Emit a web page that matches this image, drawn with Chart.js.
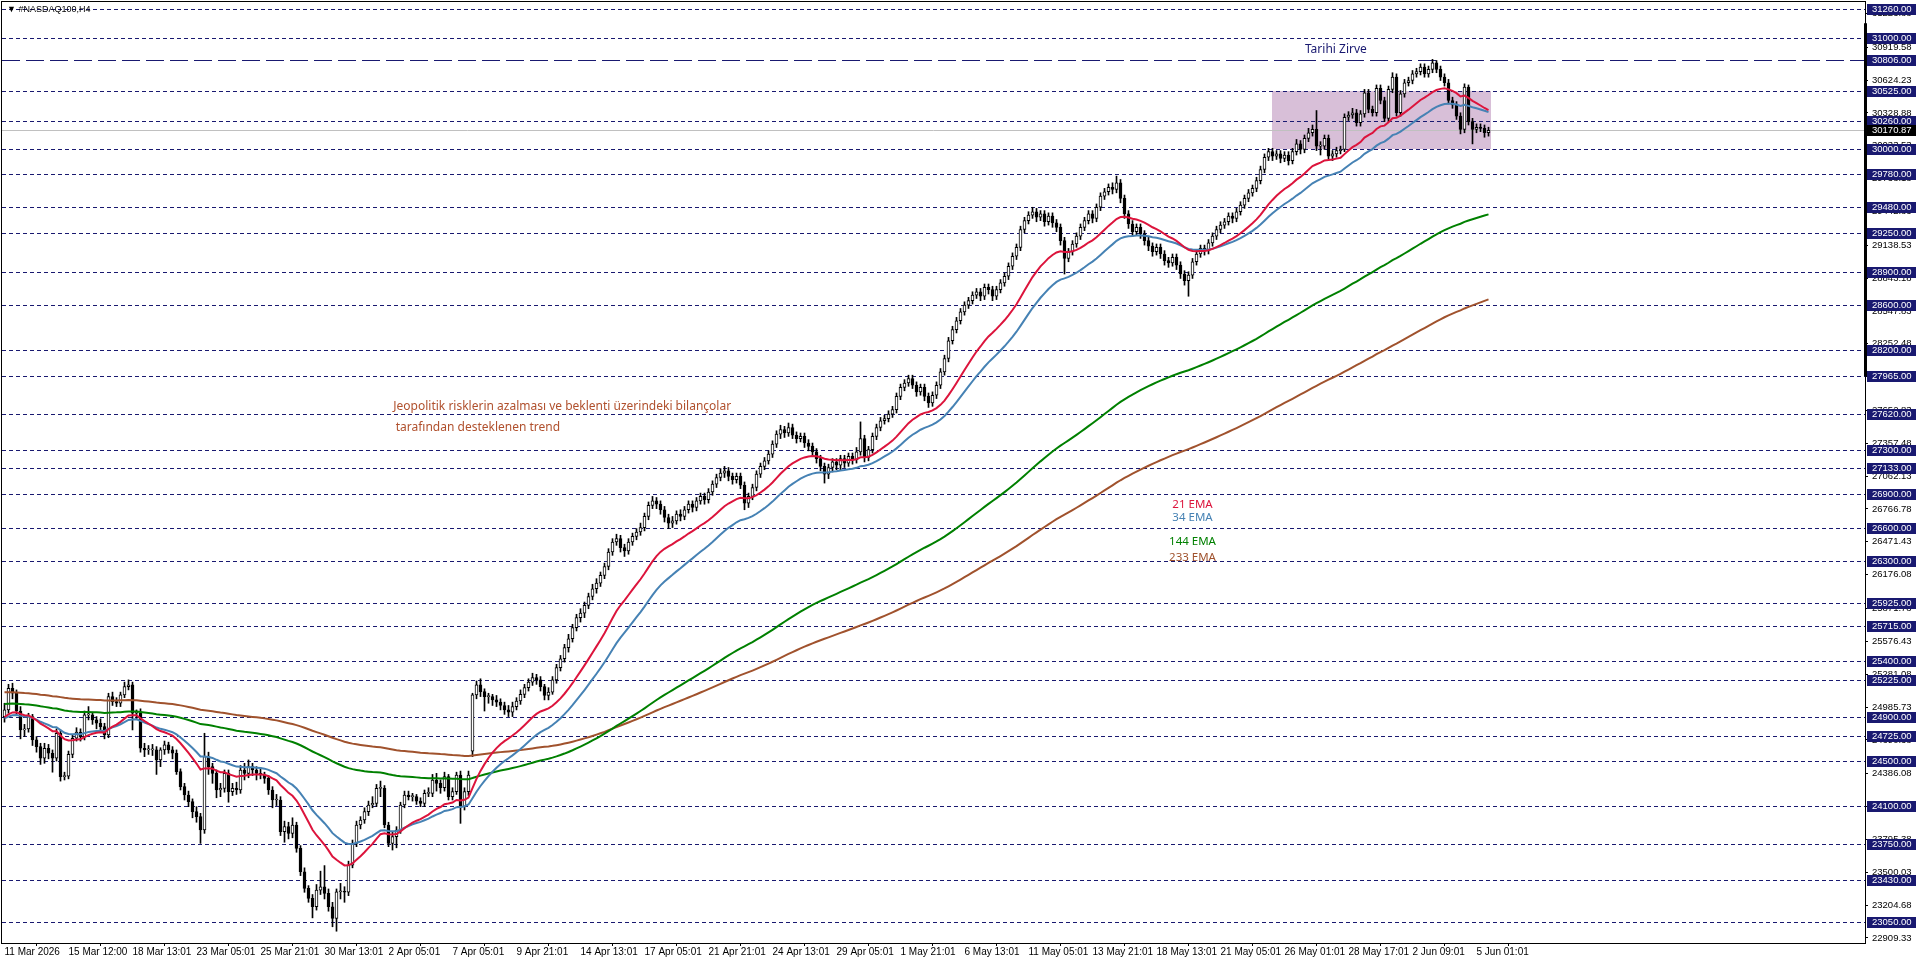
<!DOCTYPE html>
<html>
<head>
<meta charset="utf-8">
<title>#NASDAQ100,H4</title>
<script src="https://cdn.jsdelivr.net/npm/chart.js@4.4.1/dist/chart.umd.min.js"></script>
<style>
    html, body { margin: 0; padding: 0; background: #fff; overflow: hidden; }
    #wrap { width: 1916px; height: 963px; position: relative; }
</style>
</head>
<body>
<div id="wrap"><canvas id="priceChart"></canvas></div>
<script>
// H4 bars, index 0 = 11 Mar 2026
const opens = [
    24900, 24960, 25155, 25110, 24950, 24780, 24790, 24900, 24690, 24630,
    24525, 24615, 24570, 24525, 24750, 24360, 24365, 24560, 24705, 24760,
    24720, 24915, 24915, 24870, 24840, 24810, 24735, 25080, 25035, 25020,
    25095, 25170, 25185, 24930, 24930, 24615, 24600, 24600, 24600, 24510,
    24600, 24645, 24600, 24570, 24405, 24270, 24195, 24135, 24045, 24000,
    23880, 24540, 24450, 24390, 24240, 24255, 24390, 24225, 24255, 24240,
    24420, 24390, 24450, 24420, 24390, 24375, 24345, 24240, 24150, 24150,
    23865, 23910, 23850, 23925, 23715, 23505, 23355, 23265, 23190, 23340,
    23370, 23310, 23190, 23085, 23325, 23325, 23320, 23565, 23760, 23925,
    23970, 24045, 24105, 24120, 24255, 24255, 23925, 23760, 23820, 23880,
    24105, 24195, 24180, 24180, 24140, 24120, 24210, 24210, 24330, 24300,
    24260, 24360, 24180, 24225, 24375, 24090, 24225, 24590, 25095, 25185,
    25125, 25080, 25080, 25050, 25030, 25000, 24960, 24940, 24990, 25040,
    25100, 25160, 25210, 25250, 25230, 25170, 25090, 25120, 25230, 25340,
    25420, 25520, 25600, 25700, 25790, 25830, 25900, 25980, 26050, 26100,
    26170, 26250, 26380, 26470, 26500, 26420, 26390, 26470, 26520, 26560,
    26600, 26700, 26800, 26840, 26810, 26760, 26690, 26640, 26660, 26720,
    26700, 26760, 26810, 26780, 26840, 26880, 26850, 26920, 26990, 27050,
    27090, 27110, 27060, 27030, 27060, 26980, 26820, 26880, 26960, 27080,
    27150, 27200, 27260, 27350, 27440, 27480, 27450, 27500, 27430, 27400,
    27420, 27360, 27330, 27280, 27220, 27150, 27080, 27140, 27190, 27160,
    27220, 27180, 27240, 27210, 27280, 27400, 27230, 27300, 27420, 27500,
    27560, 27580, 27620, 27660, 27780, 27860, 27900, 27940, 27880, 27820,
    27860, 27780, 27720, 27790, 27880, 28000, 28120, 28280, 28380, 28460,
    28540, 28600, 28640, 28690, 28720, 28680, 28760, 28740, 28680, 28740,
    28800, 28860, 28950, 29040, 29120, 29280, 29360, 29410, 29440, 29390,
    29420, 29350, 29400, 29340, 29300, 29180, 29020, 29080, 29150, 29220,
    29300, 29360, 29420, 29380, 29480, 29580, 29620, 29660, 29640, 29700,
    29560, 29420, 29330, 29260, 29300, 29240, 29180, 29130, 29080, 29120,
    29060, 29000, 28980, 29030, 28960, 28880, 28820, 28870, 28990, 29060,
    29110, 29090, 29160, 29220, 29280, 29320, 29350, 29400, 29380, 29440,
    29500, 29560, 29610, 29650, 29720, 29820, 29930, 29980, 29940, 29960,
    29920, 29950, 29900, 29980, 30050, 30000, 30100, 30150, 30180, 30030,
    30030, 30100, 29940, 29960, 29990, 30000, 30290, 30310, 30330, 30240,
    30320, 30510, 30360, 30330, 30550, 30440, 30280, 30540, 30650, 30330,
    30500, 30600, 30620, 30680, 30700, 30740, 30680, 30720, 30780, 30720,
    30650, 30600, 30440, 30400, 30300, 30180, 30560, 30250, 30180, 30200,
    30190, 30150
];
const highs = [
    25020, 25190, 25200, 25140, 24990, 24830, 24930, 24920, 24720, 24660,
    24660, 24650, 24600, 24790, 24780, 24400, 24590, 24740, 24800, 24790,
    24950, 24990, 24940, 24900, 24880, 24840, 25110, 25120, 25070, 25120,
    25210, 25230, 25210, 24960, 24970, 24660, 24640, 24650, 24630, 24620,
    24680, 24670, 24630, 24600, 24430, 24300, 24230, 24160, 24090, 24030,
    24750, 24580, 24480, 24420, 24300, 24420, 24420, 24300, 24310, 24460,
    24480, 24510, 24480, 24450, 24440, 24400, 24370, 24270, 24200, 24180,
    23960, 23950, 23990, 23950, 23740, 23540, 23380, 23300, 23390, 23510,
    23560, 23350, 23230, 23350, 23400, 23370, 23600, 23790, 23960, 24000,
    24080, 24140, 24180, 24290, 24320, 24280, 23950, 23860, 23910, 24130,
    24230, 24230, 24210, 24200, 24170, 24240, 24260, 24380, 24390, 24330,
    24400, 24380, 24260, 24400, 24410, 24260, 24410, 25110, 25220, 25240,
    25150, 25110, 25100, 25090, 25060, 25030, 25000, 25030, 25070, 25140,
    25190, 25240, 25290, 25280, 25260, 25190, 25160, 25260, 25370, 25450,
    25550, 25640, 25730, 25820, 25870, 25930, 26010, 26090, 26140, 26200,
    26280, 26410, 26500, 26540, 26530, 26450, 26500, 26550, 26590, 26640,
    26730, 26830, 26880, 26870, 26840, 26790, 26720, 26700, 26750, 26760,
    26790, 26840, 26840, 26870, 26910, 26910, 26950, 27020, 27080, 27130,
    27150, 27140, 27090, 27090, 27090, 27010, 26910, 26990, 27110, 27180,
    27230, 27290, 27380, 27470, 27520, 27510, 27540, 27530, 27460, 27450,
    27450, 27390, 27360, 27310, 27250, 27180, 27170, 27220, 27220, 27250,
    27250, 27270, 27270, 27320, 27550, 27430, 27330, 27450, 27530, 27590,
    27610, 27650, 27690, 27810, 27890, 27930, 27970, 27970, 27910, 27890,
    27890, 27810, 27820, 27910, 28030, 28150, 28310, 28410, 28490, 28570,
    28630, 28670, 28720, 28750, 28750, 28790, 28790, 28770, 28770, 28830,
    28890, 28980, 29070, 29150, 29310, 29390, 29440, 29480, 29470, 29450,
    29450, 29430, 29430, 29370, 29330, 29210, 29110, 29180, 29250, 29330,
    29390, 29450, 29450, 29510, 29610, 29650, 29690, 29700, 29760, 29730,
    29590, 29450, 29360, 29330, 29330, 29270, 29210, 29160, 29150, 29150,
    29090, 29030, 29060, 29060, 28990, 28910, 28900, 29020, 29090, 29140,
    29140, 29190, 29250, 29310, 29350, 29380, 29430, 29430, 29470, 29530,
    29590, 29640, 29680, 29750, 29850, 29960, 30010, 30010, 29990, 29990,
    29980, 29980, 30010, 30090, 30080, 30130, 30190, 30220, 30350, 30070,
    30130, 30130, 29990, 30020, 30030, 30320, 30340, 30370, 30360, 30350,
    30540, 30540, 30390, 30580, 30580, 30470, 30570, 30690, 30680, 30530,
    30630, 30650, 30710, 30730, 30770, 30770, 30750, 30810, 30800, 30750,
    30680, 30630, 30470, 30430, 30330, 30590, 30580, 30280, 30230, 30230,
    30220, 30200
];
const lows = [
    24850, 24930, 25060, 24910, 24700, 24720, 24760, 24640, 24580, 24470,
    24480, 24520, 24400, 24500, 24320, 24330, 24340, 24530, 24680, 24680,
    24690, 24870, 24830, 24790, 24770, 24700, 24710, 25000, 24990, 24990,
    25070, 25140, 24780, 24880, 24580, 24540, 24560, 24550, 24380, 24450,
    24560, 24570, 24520, 24380, 24240, 24150, 24090, 23990, 23950, 23760,
    23850, 24380, 24300, 24170, 24180, 24220, 24130, 24190, 24200, 24210,
    24330, 24350, 24370, 24330, 24340, 24300, 24200, 24080, 24100, 23830,
    23770, 23800, 23810, 23680, 23470, 23320, 23230, 23090, 23160, 23300,
    23260, 23150, 23010, 22970, 23260, 23230, 23290, 23540, 23730, 23890,
    23940, 24010, 24080, 24090, 24180, 23900, 23730, 23700, 23720, 23850,
    24080, 24150, 24140, 24110, 24090, 24090, 24180, 24180, 24230, 24210,
    24230, 24150, 24150, 24200, 23940, 24060, 24190, 24540, 25060, 25080,
    24950, 25020, 25000, 24990, 24960, 24920, 24900, 24900, 24960, 25010,
    25070, 25130, 25180, 25190, 25130, 25050, 25050, 25100, 25200, 25310,
    25390, 25480, 25570, 25670, 25750, 25790, 25870, 25950, 26010, 26070,
    26140, 26220, 26350, 26440, 26380, 26340, 26360, 26440, 26490, 26530,
    26570, 26670, 26770, 26770, 26720, 26650, 26590, 26600, 26630, 26660,
    26670, 26730, 26740, 26750, 26810, 26810, 26820, 26890, 26960, 27020,
    27050, 27020, 26990, 27000, 26950, 26760, 26780, 26850, 26930, 27050,
    27120, 27170, 27230, 27320, 27400, 27410, 27420, 27400, 27360, 27370,
    27320, 27290, 27240, 27180, 27110, 27000, 27040, 27100, 27120, 27120,
    27140, 27150, 27170, 27180, 27250, 27190, 27200, 27270, 27390, 27470,
    27530, 27550, 27590, 27630, 27750, 27830, 27870, 27850, 27780, 27790,
    27740, 27680, 27690, 27760, 27850, 27970, 28090, 28250, 28350, 28430,
    28510, 28570, 28610, 28660, 28640, 28650, 28700, 28640, 28650, 28710,
    28770, 28830, 28920, 29010, 29090, 29250, 29330, 29380, 29350, 29360,
    29310, 29320, 29300, 29260, 29140, 28880, 28990, 29050, 29120, 29190,
    29270, 29330, 29340, 29350, 29450, 29550, 29590, 29600, 29610, 29520,
    29380, 29290, 29220, 29230, 29200, 29140, 29090, 29040, 29050, 29020,
    28960, 28940, 28950, 28920, 28840, 28780, 28680, 28840, 28960, 29030,
    29050, 29060, 29130, 29190, 29250, 29290, 29320, 29340, 29350, 29410,
    29470, 29530, 29580, 29620, 29690, 29790, 29900, 29900, 29910, 29880,
    29890, 29860, 29870, 29950, 29960, 29970, 30070, 30120, 29990, 29950,
    30000, 29910, 29900, 29930, 29960, 29980, 30260, 30280, 30210, 30210,
    30290, 30330, 30300, 30300, 30410, 30250, 30250, 30510, 30300, 30300,
    30470, 30570, 30590, 30650, 30670, 30650, 30650, 30690, 30690, 30620,
    30570, 30410, 30370, 30270, 30140, 30150, 30220, 30050, 30150, 30160,
    30110, 30120
];
const closes = [
    24960, 25155, 25110, 24950, 24780, 24790, 24900, 24690, 24630, 24525,
    24615, 24570, 24525, 24750, 24360, 24365, 24560, 24705, 24760, 24720,
    24915, 24915, 24870, 24840, 24810, 24735, 25080, 25035, 25020, 25095,
    25170, 25185, 24930, 24930, 24615, 24600, 24600, 24600, 24510, 24600,
    24645, 24600, 24570, 24405, 24270, 24195, 24135, 24045, 24000, 23880,
    24540, 24450, 24390, 24240, 24255, 24390, 24225, 24255, 24240, 24420,
    24390, 24450, 24420, 24390, 24375, 24345, 24240, 24150, 24150, 23865,
    23910, 23850, 23925, 23715, 23505, 23355, 23265, 23190, 23340, 23370,
    23310, 23190, 23085, 23325, 23325, 23320, 23565, 23760, 23925, 23970,
    24045, 24105, 24120, 24255, 24255, 23925, 23760, 23820, 23880, 24105,
    24195, 24180, 24180, 24140, 24120, 24210, 24210, 24330, 24300, 24260,
    24360, 24180, 24225, 24375, 24090, 24225, 24375, 25095, 25185, 25125,
    25080, 25080, 25050, 25030, 25000, 24960, 24940, 24990, 25040, 25100,
    25160, 25210, 25250, 25230, 25170, 25090, 25120, 25230, 25340, 25420,
    25520, 25600, 25700, 25790, 25830, 25900, 25980, 26050, 26100, 26170,
    26250, 26380, 26470, 26500, 26420, 26390, 26470, 26520, 26560, 26600,
    26700, 26800, 26840, 26810, 26760, 26690, 26640, 26660, 26720, 26700,
    26760, 26810, 26780, 26840, 26880, 26850, 26920, 26990, 27050, 27090,
    27110, 27060, 27030, 27060, 26980, 26820, 26880, 26960, 27080, 27150,
    27200, 27260, 27350, 27440, 27480, 27450, 27500, 27430, 27400, 27420,
    27360, 27330, 27280, 27220, 27150, 27080, 27140, 27190, 27160, 27220,
    27180, 27240, 27210, 27280, 27400, 27230, 27300, 27420, 27500, 27560,
    27580, 27620, 27660, 27780, 27860, 27900, 27940, 27880, 27820, 27860,
    27780, 27720, 27790, 27880, 28000, 28120, 28280, 28380, 28460, 28540,
    28600, 28640, 28690, 28720, 28680, 28760, 28740, 28680, 28740, 28800,
    28860, 28950, 29040, 29120, 29280, 29360, 29410, 29440, 29390, 29420,
    29350, 29400, 29340, 29300, 29180, 29020, 29080, 29150, 29220, 29300,
    29360, 29420, 29380, 29480, 29580, 29620, 29660, 29640, 29700, 29560,
    29420, 29330, 29260, 29300, 29240, 29180, 29130, 29080, 29120, 29060,
    29000, 28980, 29030, 28960, 28880, 28820, 28870, 28990, 29060, 29110,
    29090, 29160, 29220, 29280, 29320, 29350, 29400, 29380, 29440, 29500,
    29560, 29610, 29650, 29720, 29820, 29930, 29980, 29940, 29960, 29920,
    29950, 29900, 29980, 30050, 30000, 30100, 30150, 30180, 30030, 30030,
    30100, 29940, 29960, 29990, 30000, 30290, 30310, 30330, 30240, 30320,
    30510, 30360, 30330, 30550, 30440, 30280, 30540, 30650, 30330, 30500,
    30600, 30620, 30680, 30700, 30740, 30680, 30720, 30780, 30720, 30650,
    30600, 30440, 30400, 30300, 30180, 30560, 30250, 30180, 30200, 30190,
    30150, 30170.87
];

// time axis: bar index of each date label
const dateTickBars = [0, 16, 32, 48, 64, 80, 96, 112, 128, 144, 160, 176,
    192, 208, 224, 240, 256, 272, 288, 304, 320, 336, 352, 368];
const dateLabels = ['11 Mar 2026', '15 Mar 12:00', '18 Mar 13:01', '23 Mar 05:01',
    '25 Mar 21:01', '30 Mar 13:01', '2 Apr 05:01', '7 Apr 05:01', '9 Apr 21:01',
    '14 Apr 13:01', '17 Apr 05:01', '21 Apr 21:01', '24 Apr 13:01', '29 Apr 05:01',
    '1 May 21:01', '6 May 13:01', '11 May 05:01', '13 May 21:01', '18 May 13:01',
    '21 May 05:01', '26 May 01:01', '28 May 17:01', '2 Jun 09:01', '5 Jun 01:01'];

// price scale labels
const priceTicks = [31223.88, 30919.58, 30624.23, 30328.88, 30033.53, 29738.18,
    29442.83, 29138.53, 28843.18, 28547.83, 28252.48, 27957.13, 27652.83, 27357.48,
    27062.13, 26766.78, 26471.43, 26176.08, 25871.78, 25576.43, 25281.08, 24985.73,
    24690.38, 24386.08, 24090.73, 23795.38, 23500.03, 23204.68, 22909.33];

// horizontal levels drawn on the chart
const levels = [31260, 31000, 30806, 30525, 30260, 30000, 29780, 29480, 29250,
    28900, 28600, 28200, 27965, 27620, 27300, 27133, 26900, 26600, 26300, 25925,
    25715, 25400, 25225, 24900, 24725, 24500, 24100, 23750, 23430, 23050];
const athLevel = 30806;
const lastPrice = 30170.87;

// consolidation zone (bar index range, price range)
const zoneBars = [316.75, 371.6];
const zonePrices = [30000, 30525];

// moving averages
const emaPeriods = [21, 34, 144, 233];
const emaSeeds = [24890, 24880, 25015, 25120];
const emaColors = ['#DC143C', '#4682B4', '#008000', '#A0522D'];

function calcEma(values, period, seed) {
    const k = 2 / (period + 1);
    let prev = seed;
    return values.map(v => (prev = v * k + prev * (1 - k)));
}

const FONT = "'Liberation Sans', Arial, sans-serif";
const TEXT_FONT = "'Noto Sans', 'Open Sans', sans-serif";

const bodies = closes.map((c, i) => ({ x: i, y: [opens[i], c] }));
const wicks = closes.map((c, i) => ({ x: i, y: [lows[i], highs[i]] }));
const bodyFill = closes.map((c, i) => (c >= opens[i] ? '#ffffff' : '#000000'));

const emaSets = emaPeriods.map((p, n) => {
    const values = calcEma(closes, p, emaSeeds[n]);
    return {
        type: 'line',
        label: p + ' EMA',
        data: values.map((v, i) => ({ x: i, y: v })),
        borderColor: emaColors[n],
        borderWidth: 2,
        pointRadius: 0,
        tension: 0,
        order: 0
    };
});

const overlay = {
    id: 'overlay',
    beforeDatasetsDraw(chart) {
        const { ctx, chartArea: a, scales: { x, y } } = chart;
        ctx.save();
        ctx.beginPath();
        ctx.rect(a.left, a.top, a.right - a.left, a.bottom - a.top);
        ctx.clip();

        // zone
        const zx0 = Math.round(x.getPixelForValue(zoneBars[0]));
        const zx1 = Math.round(x.getPixelForValue(zoneBars[1]));
        const zy0 = Math.round(y.getPixelForValue(zonePrices[1]));
        const zy1 = Math.round(y.getPixelForValue(zonePrices[0]));
        ctx.fillStyle = '#D8BFD8';
        ctx.fillRect(zx0, zy0, zx1 - zx0, zy1 - zy0);

        // bid line
        const by = Math.round(y.getPixelForValue(lastPrice)) + 0.5;
        ctx.strokeStyle = '#C0C0C0';
        ctx.lineWidth = 1;
        ctx.beginPath();
        ctx.moveTo(a.left, by);
        ctx.lineTo(a.right, by);
        ctx.stroke();

        // levels
        ctx.strokeStyle = '#191970';
        levels.forEach(v => {
            const py = Math.round(y.getPixelForValue(v)) + 0.5;
            ctx.setLineDash(v === athLevel ? [18, 6] : [4, 3]);
            ctx.beginPath();
            ctx.moveTo(a.left, py);
            ctx.lineTo(a.right, py);
            ctx.stroke();
        });
        ctx.restore();
    },
    afterDraw(chart) {
        const { ctx, chartArea: a, scales: { x, y } } = chart;
        ctx.save();

        // frame
        ctx.strokeStyle = '#000';
        ctx.lineWidth = 1;
        ctx.strokeRect(a.left - 0.5, a.top - 0.5, a.right - a.left + 1, a.bottom - a.top + 1);

        // thick marker on the price scale
        const ty0 = y.getPixelForValue(31135), ty1 = y.getPixelForValue(27960);
        ctx.fillStyle = '#000';
        ctx.fillRect(a.right - 1, ty0, 3, ty1 - ty0);

        // level labels
        ctx.font = '9.5px ' + FONT;
        ctx.textBaseline = 'middle';
        ctx.textAlign = 'left';
        levels.forEach(v => {
            const py = Math.round(y.getPixelForValue(v));
            ctx.fillStyle = '#191970';
            ctx.fillRect(a.right + 2, py - 5, 49, 11);
            ctx.fillStyle = '#fff';
            ctx.fillText(v.toFixed(2), a.right + 7, py + 0.5);
        });
        const by = Math.round(y.getPixelForValue(lastPrice));
        ctx.fillStyle = '#000';
        ctx.fillRect(a.right + 2, by - 5, 49, 11);
        ctx.fillStyle = '#fff';
        ctx.fillText(lastPrice.toFixed(2), a.right + 7, by + 0.5);

        // symbol title
        ctx.fillStyle = '#000';
        ctx.font = '9px ' + FONT;
        ctx.fillText('\u25BC #NASDAQ100,H4', a.left + 5, 10);

        // text objects
        ctx.font = '12px ' + TEXT_FONT;
        ctx.fillStyle = '#191970';
        ctx.fillText('Tarihi Zirve', x.getPixelForValue(325.1), y.getPixelForValue(30895));

        ctx.fillStyle = '#B0502D';
        ctx.fillText('Jeopolitik risklerin azalması ve beklenti üzerindeki bilançolar',
            x.getPixelForValue(97.2), y.getPixelForValue(27684));
        ctx.fillText('tarafından desteklenen trend',
            x.getPixelForValue(97.8), y.getPixelForValue(27495));

        ctx.textAlign = 'center';
        ctx.font = '11.5px ' + TEXT_FONT;
        const emaLabelPrices = [26804, 26686, 26470, 26326];
        emaPeriods.forEach((p, n) => {
            ctx.fillStyle = emaColors[n];
            ctx.fillText(p + ' EMA', x.getPixelForValue(297), y.getPixelForValue(emaLabelPrices[n]));
        });
        ctx.restore();
    }
};

document.addEventListener('DOMContentLoaded', function() {
    const ctx = document.getElementById('priceChart').getContext('2d');
    if (typeof Chart === 'undefined') {
        console.error('Chart.js is not loaded.');
        return;
    }
    new Chart(ctx, {
        type: 'bar',
        data: {
            datasets: [
                ...emaSets,
                {
                    label: 'Body',
                    data: bodies,
                    backgroundColor: bodyFill,
                    borderColor: '#000',
                    borderWidth: 1,
                    borderSkipped: false,
                    barThickness: 3,
                    minBarLength: 1,
                    order: 1
                },
                {
                    label: 'Wick',
                    data: wicks,
                    backgroundColor: '#000',
                    borderWidth: 0,
                    barThickness: 1,
                    order: 2
                }
            ]
        },
        plugins: [overlay],
        options: {
            responsive: true,
            maintainAspectRatio: false,
            animation: false,
            grouped: false,
            layout: { padding: { left: 2, top: 2, right: 0, bottom: 0 } },
            plugins: { legend: { display: false }, tooltip: { enabled: false } },
            scales: {
                x: {
                    type: 'linear',
                    min: -0.625,
                    max: 465.125,
                    offset: false,
                    afterBuildTicks: scale => {
                        scale.ticks = dateTickBars.map(v => ({ value: v }));
                    },
                    afterFit: scale => {
                        scale.height = 20;
                        scale.paddingLeft = 0;
                        scale.paddingRight = 0;
                    },
                    grid: { drawOnChartArea: false, drawTicks: true, tickLength: 3, color: '#000' },
                    border: { color: '#000' },
                    ticks: {
                        autoSkip: false,
                        maxRotation: 0,
                        align: 'start',
                        padding: 0,
                        color: '#000',
                        font: { family: FONT, size: 10 },
                        callback: value => dateLabels[dateTickBars.indexOf(value)]
                    }
                },
                y: {
                    position: 'right',
                    min: 22864,
                    max: 31326,
                    afterBuildTicks: scale => {
                        scale.ticks = priceTicks.map(v => ({ value: v }));
                    },
                    afterFit: scale => {
                        scale.width = 51;
                        scale.paddingTop = 0;
                        scale.paddingBottom = 0;
                    },
                    grid: { drawOnChartArea: false, drawTicks: true, tickLength: 3, color: '#000' },
                    border: { color: '#000' },
                    ticks: {
                        autoSkip: false,
                        padding: 4,
                        color: '#000',
                        font: { family: FONT, size: 9.5 },
                        callback: value => value.toFixed(2)
                    }
                }
            }
        }
    });
});
</script>
</body>
</html>
